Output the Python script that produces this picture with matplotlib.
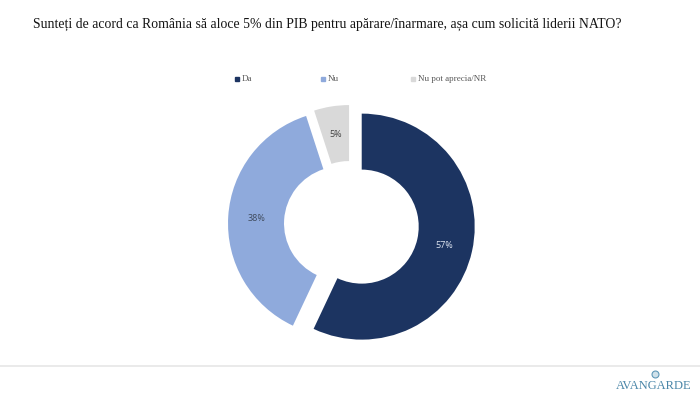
import math
import matplotlib.pyplot as plt
from matplotlib.lines import Line2D

# datos
categorias = ["Da", "Nu", "Nu pot aprecia/NR"]
valores = [57, 38, 5]
etiquetas = ["57%", "38%", "5%"]
colores = ["#1c3461", "#8faadc", "#d9d9d9"]
color_etiq = ["#dfe6f2", "#3f4a5c", "#404040"]

titulo = "Sunteți de acord ca România să aloce 5% din PIB pentru apărare/înarmare, așa cum solicită liderii NATO?"

W, H = 700, 394
fig = plt.figure(figsize=(7, 3.94), dpi=100)
ax = fig.add_axes([0, 0, 1, 1])

# dona (coordenadas en pixeles, y hacia arriba)
cx, cy = 350, H - 224
R = 113
ancho = 56
sep = [12, 9, 6]   # separacion de cada porcion
ax.pie(valores, colors=colores, startangle=90, counterclock=False,
       center=(cx, cy), radius=R, explode=sep,
       wedgeprops=dict(width=ancho, linewidth=0))

# etiquetas en el centro del anillo
ang = 90.0
total = sum(valores)
for i, v in enumerate(valores):
    a1 = ang - 360.0 * v / total
    am = math.radians((ang + a1) / 2)
    ox = cx + sep[i] * math.cos(am)
    oy = cy + sep[i] * math.sin(am)
    rr = R - ancho / 2
    ax.text(ox + rr * math.cos(am), oy + rr * math.sin(am), etiquetas[i],
            ha="center", va="center", fontsize=6.5, color=color_etiq[i],
            family="Open Sans")
    ang = a1

ax.set_xlim(0, W)
ax.set_ylim(0, H)
ax.set_aspect("auto")
ax.axis("off")

# titulo
ax.text(33, H - 24, titulo, ha="left", va="center", fontsize=9.95,
        family="Liberation Serif", color="#141414")

# leyenda
leg_x = [237, 323, 413]
for i, c in enumerate(categorias):
    ax.plot(leg_x[i], H - 79, marker="s", ms=2.8, color=colores[i], ls="none")
    ax.text(leg_x[i] + 5, H - 79, c, ha="left", va="center", fontsize=6.5,
            family="Liberation Serif", color="#595959")

# linea inferior y logo
ax.add_line(Line2D([0, W], [H - 366, H - 366], color="#e6e6e6", lw=1.2))
ax.text(691, H - 386, "AVANGARDE", ha="right", va="center", fontsize=9,
        family="Liberation Serif", color="#4a86a8")
ax.plot(655, H - 374, marker="o", ms=5, mfc="#cfe1ea", mec="#5f98b8",
        mew=0.8, ls="none")

fig.savefig("out.png", dpi=100)
